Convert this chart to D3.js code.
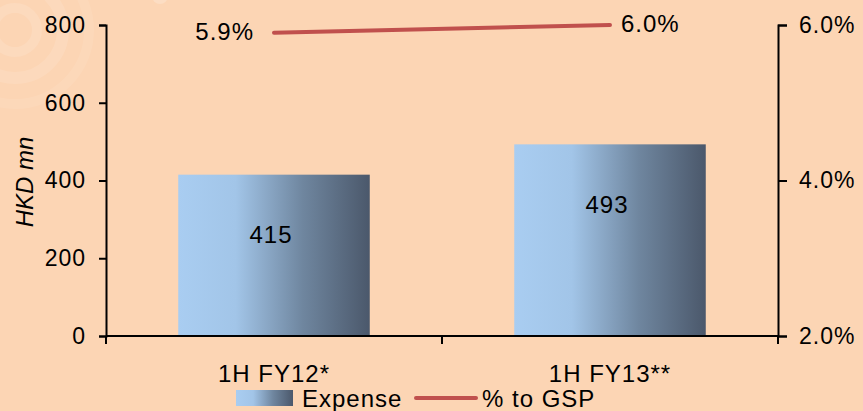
<!DOCTYPE html>
<html>
<head>
<meta charset="utf-8">
<script src="https://cdn.jsdelivr.net/npm/d3@7"></script>
<style>
  html, body { margin: 0; padding: 0; background: #FCD5B4; }
  svg { display: block; }
  text { font-family: "Liberation Sans", Arial, sans-serif; fill: #000; letter-spacing: 1px; }
</style>
</head>
<body>
<svg id="chart" width="863" height="411"></svg>
<script>
// Half-year expense and its share of GSP
const categories = ["1H FY12*", "1H FY13**"];
const expense = [415, 493];          // HKD mn
const pctToGSP = [5.9, 6.0];         // %
const leftTicks = [0, 200, 400, 600, 800];
const rightTicks = [2, 4, 6];

const m = { left: 106, right: 778, top: 25, bottom: 336 };

const svg = d3.select("#chart");

// soft decorative swirl in the top-left corner
const deco = svg.append("g").attr("fill", "none").attr("stroke", "#fff");
[[15, 30, 22, 10, 0.12], [15, 30, 48, 12, 0.11], [15, 30, 74, 10, 0.08]].forEach(([cx, cy, r, w, o]) => {
  deco.append("circle").attr("cx", cx).attr("cy", cy).attr("r", r)
    .attr("stroke-width", w).attr("stroke-opacity", o);
});
deco.append("circle").attr("cx", 160).attr("cy", -4).attr("r", 8)
  .attr("fill", "#fff").attr("fill-opacity", 0.2).attr("stroke", "none");

// bar gradient
const defs = svg.append("defs");
const grad = defs.append("linearGradient").attr("id", "barGrad")
  .attr("x1", "0%").attr("x2", "100%").attr("y1", "0%").attr("y2", "0%");
[[0, "#A9CDF1"], [0.3, "#A2C5E8"], [0.65, "#6F869F"], [1, "#4B586B"]].forEach(([o, c]) => {
  grad.append("stop").attr("offset", o).attr("stop-color", c);
});

const x = d3.scaleBand().domain(categories).range([m.left, m.right]).paddingInner(0.43).paddingOuter(0.215);
const yL = d3.scaleLinear().domain([0, 800]).range([m.bottom, m.top]);
const yR = d3.scaleLinear().domain([2, 6]).range([m.bottom, m.top]);
const band = d3.scaleBand().domain(categories).range([m.left, m.right]);

// bars
svg.append("g").selectAll("rect").data(expense).join("rect")
  .attr("x", (d, i) => x(categories[i]))
  .attr("width", x.bandwidth())
  .attr("y", d => yL(d))
  .attr("height", d => yL(0) - yL(d))
  .attr("fill", "url(#barGrad)");

// bar value labels
svg.append("g").selectAll("text").data(expense).join("text")
  .attr("x", (d, i) => x(categories[i]) + x.bandwidth() / 2 - 3)
  .attr("y", d => yL(d) + 60)
  .attr("dy", "0.35em")
  .attr("text-anchor", "middle")
  .attr("font-size", 24)
  .text(d => d);

// axes
const axisStyle = g => {
  g.selectAll(".domain").attr("stroke", "#000").attr("stroke-width", 2);
  g.selectAll(".tick line").attr("stroke", "#000").attr("stroke-width", 2);
  g.selectAll(".tick text").attr("font-size", 23).attr("font-family", "Liberation Sans, Arial, sans-serif").attr("fill", "#000");
};

svg.append("g").attr("transform", `translate(${m.left},0)`)
  .call(d3.axisLeft(yL).tickValues(leftTicks).tickSizeOuter(0).tickSize(7).tickPadding(13).tickFormat(d3.format("d")))
  .call(axisStyle);

svg.append("g").attr("transform", `translate(${m.right},0)`)
  .call(d3.axisRight(yR).tickValues(rightTicks).tickSizeOuter(0).tickSize(9).tickPadding(12).tickFormat(d => d.toFixed(1) + "%"))
  .call(axisStyle);

// category axis: ticks on band boundaries
const xAxis = svg.append("g").attr("transform", `translate(0,${m.bottom})`);
xAxis.append("line").attr("x1", m.left).attr("x2", m.right).attr("stroke", "#000").attr("stroke-width", 2);
const bounds = categories.map(c => band(c)).concat([m.right]);
xAxis.selectAll("line.tk").data(bounds).join("line").attr("class", "tk")
  .attr("x1", d => d).attr("x2", d => d).attr("y1", 0).attr("y2", 8)
  .attr("stroke", "#000").attr("stroke-width", 2);
xAxis.selectAll("text").data(categories).join("text")
  .attr("x", d => band(d) + band.bandwidth() / 2)
  .attr("y", 46)
  .attr("text-anchor", "middle")
  .attr("font-size", 24)
  .text(d => d);

// left axis title
svg.append("text")
  .attr("transform", "translate(33,182) rotate(-90)")
  .attr("text-anchor", "middle")
  .attr("font-size", 24)
  .attr("font-style", "italic")
  .style("letter-spacing", "0px")
  .text("HKD mn");

// % to GSP line
const pts = pctToGSP.map((v, i) => [band(categories[i]) + band.bandwidth() / 2, yR(v)]);
svg.append("path")
  .attr("d", d3.line()(pts))
  .attr("fill", "none")
  .attr("stroke", "#C0504D")
  .attr("stroke-width", 4)
  .attr("stroke-linecap", "round");

svg.append("g").selectAll("text").data(pctToGSP).join("text")
  .attr("x", (d, i) => pts[i][0] + (i === 0 ? -20 : 11))
  .attr("y", (d, i) => pts[i][1] + 7)
  .attr("text-anchor", (d, i) => i === 0 ? "end" : "start")
  .attr("font-size", 24)
  .text(d => d.toFixed(1) + "%");

// legend
const lg = svg.append("g");
lg.append("rect").attr("x", 236).attr("y", 390).attr("width", 57).attr("height", 16).attr("fill", "url(#barGrad)");
lg.append("text").attr("x", 302).attr("y", 407).attr("font-size", 24).text("Expense");
lg.append("line").attr("x1", 416).attr("x2", 476).attr("y1", 398).attr("y2", 398)
  .attr("stroke", "#C0504D").attr("stroke-width", 4).attr("stroke-linecap", "round");
lg.append("text").attr("x", 482).attr("y", 407).attr("font-size", 24).text("% to GSP");
</script>
</body>
</html>
